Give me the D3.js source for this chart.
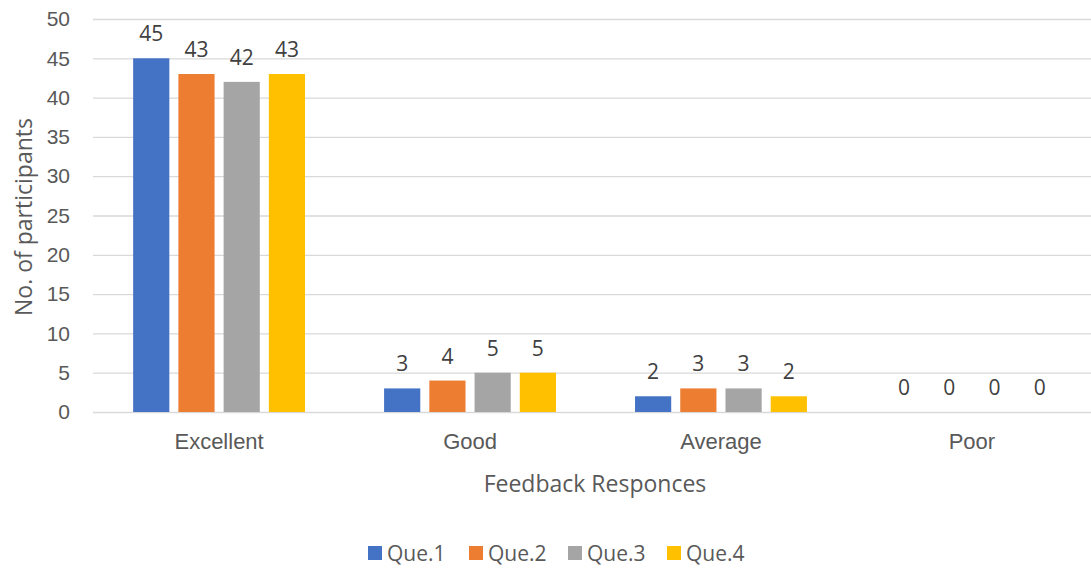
<!DOCTYPE html>
<html>
<head>
<meta charset="utf-8">
<script src="https://cdn.jsdelivr.net/npm/d3@7"></script>
<style>
  body { margin: 0; background: #fff; }
  svg { display: block; font-family: "Open Sans", Lato, sans-serif; }
</style>
</head>
<body>
<div id="chart"></div>
<script>
// chart data
var categories = ["Excellent", "Good", "Average", "Poor"];
var seriesNames = ["Que.1", "Que.2", "Que.3", "Que.4"];
var que1 = [45, 3, 2, 0];
var que2 = [43, 4, 3, 0];
var que3 = [42, 5, 3, 0];
var que4 = [43, 5, 2, 0];
var yTicks = [0, 5, 10, 15, 20, 25, 30, 35, 40, 45, 50];

var colors = ["#4472C4", "#ED7D31", "#A5A5A5", "#FFC000"];
var allSeries = [que1, que2, que3, que4];

var W = 1091, H = 572;
var margin = {top: 19, right: -7, bottom: 160, left: 93},
    width = W - margin.left - margin.right,
    height = H - margin.top - margin.bottom;

var svg = d3.select("#chart").append("svg")
    .attr("width", W)
    .attr("height", H);

var g = svg.append("g")
    .attr("transform", "translate(" + margin.left + "," + margin.top + ")");

var x0 = d3.scaleBand()
    .domain(categories)
    .range([0, width])
    .paddingInner(0.315)
    .paddingOuter(0.16);

var x1 = d3.scaleBand()
    .domain(seriesNames)
    .range([0, x0.bandwidth()])
    .paddingInner(0.2)
    .paddingOuter(0);

var y = d3.scaleLinear()
    .domain([0, 50])
    .range([height, 0]);

// gridlines
g.selectAll(".grid")
    .data(yTicks)
    .enter().append("line")
    .attr("x1", 0)
    .attr("x2", width)
    .attr("y1", function(d) { return y(d) + 0.5; })
    .attr("y2", function(d) { return y(d) + 0.5; })
    .attr("stroke", "#d9d9d9")
    .attr("stroke-width", 1.3);

// y axis
var yAxis = g.append("g")
    .call(d3.axisLeft(y).tickValues(yTicks).tickSize(0).tickPadding(23));
yAxis.select(".domain").remove();
yAxis.selectAll("text")
    .attr("fill", "#595959")
    .style("font-family", "inherit")
    .style("font-size", "21px");

// x axis
var xAxis = g.append("g")
    .attr("transform", "translate(0," + height + ")")
    .call(d3.axisBottom(x0).tickSize(0).tickPadding(21));
xAxis.select(".domain").remove();
xAxis.selectAll("text")
    .attr("fill", "#595959")
    .style("font-family", "inherit")
    .style("font-size", "22px");

// bars
var groups = g.selectAll(".cat")
    .data(categories)
    .enter().append("g")
    .attr("transform", function(d) { return "translate(" + x0(d) + ",0)"; });

groups.selectAll("rect")
    .data(function(d, i) {
        return seriesNames.map(function(s, j) { return {s: s, v: allSeries[j][i], c: colors[j]}; });
    })
    .enter().append("rect")
    .attr("x", function(d) { return x1(d.s); })
    .attr("y", function(d) { return y(d.v); })
    .attr("width", x1.bandwidth())
    .attr("height", function(d) { return height - y(d.v); })
    .attr("fill", function(d) { return d.c; });

groups.selectAll(".lbl")
    .data(function(d, i) {
        return seriesNames.map(function(s, j) { return {s: s, v: allSeries[j][i]}; });
    })
    .enter().append("text")
    .attr("x", function(d) { return x1(d.s) + x1.bandwidth() / 2; })
    .attr("y", function(d) { return y(d.v) - 17; })
    .attr("text-anchor", "middle")
    .attr("fill", "#404040")
    .style("font-size", "21px")
    .text(function(d) { return d.v; });

// axis titles
svg.append("text")
    .attr("transform", "translate(32," + 217 + ") rotate(-90)")
    .attr("text-anchor", "middle")
    .attr("fill", "#595959")
    .style("font-size", "23px")
    .text("No. of participants");

svg.append("text")
    .attr("x", 595)
    .attr("y", 492)
    .attr("text-anchor", "middle")
    .attr("fill", "#595959")
    .style("font-size", "23px")
    .text("Feedback Responces");

// legend
var legend = svg.append("g").attr("transform", "translate(368,553)");
var offsets = [0, 101, 200, 299];
seriesNames.forEach(function(s, i) {
    var lg = legend.append("g").attr("transform", "translate(" + offsets[i] + ",0)");
    lg.append("rect")
        .attr("x", 0).attr("y", -7)
        .attr("width", 14).attr("height", 14)
        .attr("fill", colors[i]);
    lg.append("text")
        .attr("x", 19).attr("y", 8)
        .attr("fill", "#595959")
        .style("font-size", "21px")
        .text(s);
});
</script>
</body>
</html>
